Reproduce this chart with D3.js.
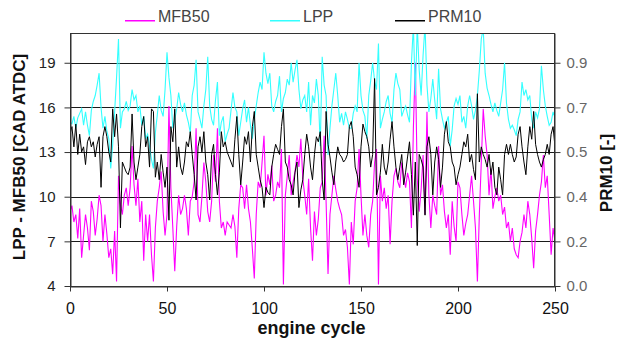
<!DOCTYPE html>
<html><head><meta charset="utf-8">
<script src="https://cdn.jsdelivr.net/npm/d3@7"></script>
<style>body{margin:0;background:#fff}svg{display:block}text{font-family:"Liberation Sans",Arial,sans-serif}</style>
</head><body><svg id="c" width="619" height="339"></svg>
<script>
const cycles = d3.range(0, 251);
const leftTicks = [4, 7, 10, 13, 16, 19];
const xTicks = [0, 50, 100, 150, 200, 250];
const seriesNames = ["MFB50", "LPP", "PRM10"];
const mfb50 = [9.0,9.4,8.3,8.8,7.2,9.2,5.9,7.4,8.8,7.9,6.4,9.7,9.0,7.4,8.5,10.1,9.4,7.0,8.8,7.5,
5.9,6.5,4.8,7.7,4.3,11.4,9.5,8.8,10.1,10.6,9.4,10.6,13.4,10.8,9.4,11.2,8.3,9.7,5.7,8.8,
7.0,8.8,6.1,4.3,7.9,9.7,10.6,11.7,9.0,7.4,8.8,16.1,10.6,7.9,5.0,8.0,10.1,8.8,9.2,10.1,
9.2,7.4,9.7,10.0,11.0,14.6,8.8,8.3,10.0,12.3,11.0,9.0,8.3,9.7,12.8,11.0,14.6,9.7,7.9,8.3,
7.4,8.3,8.1,7.9,8.8,8.0,5.9,9.2,10.8,10.6,9.2,10.8,9.2,8.3,6.5,4.5,8.8,11.0,10.6,12.3,
14.1,10.1,11.5,10.8,12.1,9.7,10.1,11.0,10.6,13.2,4.1,10.1,11.4,12.8,10.1,11.0,11.7,12.8,12.0,13.9,
11.2,10.1,8.8,11.2,7.9,5.7,9.0,7.4,8.5,10.6,11.0,14.1,9.7,4.8,8.8,10.1,11.4,10.5,9.7,9.2,
8.8,7.4,7.8,6.6,4.1,8.3,6.8,9.7,10.6,13.2,10.1,7.4,8.8,7.4,6.6,8.8,9.7,12.3,13.2,4.1,
11.4,9.7,10.6,9.2,10.1,6.8,9.7,11.4,11.9,11.0,10.6,12.3,11.4,10.6,11.6,11.0,7.9,14.6,19.0,11.2,
9.0,10.5,12.8,8.8,15.7,10.1,7.9,10.1,9.4,8.8,13.4,10.1,10.8,9.0,7.9,8.8,6.1,9.7,8.0,7.0,
11.0,10.6,8.8,7.4,8.2,8.8,10.1,11.4,9.7,7.9,4.3,8.8,12.3,15.9,14.1,12.8,10.1,11.9,9.2,10.0,
10.6,9.7,10.1,8.8,9.3,7.9,8.3,7.0,7.9,6.5,6.1,5.9,7.0,7.6,8.8,7.9,9.7,8.8,7.2,5.2,
7.7,8.8,10.1,11.0,12.8,10.6,11.4,8.8,6.1,7.9,7.0];
const lpp = [15.0,14.9,15.4,14.6,15.3,15.6,15.9,14.8,15.7,14.8,14.1,15.8,16.4,16.8,17.5,18.3,16.0,14.6,15.4,14.4,
13.9,11.9,13.5,15.7,18.0,20.6,14.6,15.7,15.9,16.4,15.8,16.1,17.2,16.5,16.8,15.7,16.1,14.8,15.4,13.9,
14.2,13.4,12.5,11.9,14.3,15.5,16.8,15.8,15.4,17.2,19.7,18.0,16.8,14.6,15.2,15.9,17.0,16.2,15.7,16.3,
15.5,15.0,14.3,16.8,17.5,19.2,15.7,15.2,14.6,16.1,17.2,19.4,16.1,15.2,14.8,16.5,17.7,14.1,15.0,15.4,
13.7,14.2,14.6,15.8,17.0,16.0,15.7,14.1,15.0,15.9,16.5,15.0,16.0,14.8,13.9,15.2,16.1,17.0,17.7,17.2,
19.7,18.3,17.6,18.3,16.1,15.7,16.4,16.8,18.1,15.7,16.6,17.0,17.9,17.5,19.0,17.7,18.5,19.2,17.2,15.9,
16.5,16.8,15.7,17.7,14.8,16.8,16.3,17.9,16.8,13.4,19.4,17.5,16.8,12.8,14.6,16.1,17.2,18.3,16.8,15.0,
15.6,14.8,15.7,15.2,14.6,14.6,15.6,16.1,15.7,19.0,16.8,15.8,15.4,13.9,16.8,17.8,19.0,17.8,17.2,20.3,
14.6,15.2,15.7,16.4,16.8,15.6,15.0,17.2,18.3,17.6,17.2,15.4,15.8,16.1,15.5,15.0,19.0,21.5,16.8,21.5,
18.5,16.8,19.5,21.5,17.5,15.7,16.6,17.9,16.5,15.2,18.6,15.9,15.2,14.6,15.0,15.4,13.4,14.5,16.1,16.6,
16.2,16.8,15.0,15.4,14.6,16.1,16.8,16.1,15.2,15.8,16.8,18.5,20.6,21.3,18.3,17.3,16.8,16.2,15.7,16.3,
15.8,15.4,16.3,17.2,19.0,16.3,15.2,14.6,14.8,14.5,14.1,15.2,15.7,17.7,16.8,17.2,16.5,16.8,15.2,14.6,
15.7,15.3,15.9,18.8,17.2,16.1,15.4,14.8,15.0,15.7,15.3];
const prm10 = [0.60,0.63,0.55,0.64,0.52,0.60,0.53,0.55,0.48,0.57,0.59,0.55,0.57,0.51,0.56,0.59,0.39,0.59,0.63,0.59,
0.53,0.49,0.70,0.59,0.68,0.55,0.23,0.49,0.47,0.45,0.44,0.47,0.68,0.49,0.42,0.47,0.52,0.63,0.67,0.55,
0.59,0.47,0.70,0.69,0.43,0.49,0.42,0.52,0.45,0.39,0.47,0.26,0.63,0.57,0.70,0.47,0.55,0.47,0.44,0.49,
0.57,0.55,0.61,0.52,0.44,0.34,0.55,0.59,0.53,0.61,0.49,0.44,0.34,0.52,0.56,0.44,0.36,0.45,0.61,0.55,
0.57,0.53,0.51,0.49,0.47,0.58,0.67,0.52,0.40,0.49,0.59,0.56,0.61,0.49,0.63,0.69,0.52,0.47,0.42,0.39,
0.31,0.39,0.37,0.36,0.47,0.52,0.56,0.54,0.52,0.63,0.70,0.49,0.47,0.42,0.40,0.36,0.45,0.49,0.31,0.38,
0.42,0.52,0.60,0.55,0.47,0.42,0.52,0.59,0.57,0.61,0.42,0.34,0.69,0.56,0.51,0.45,0.40,0.49,0.55,0.52,
0.51,0.49,0.50,0.52,0.63,0.65,0.59,0.47,0.44,0.39,0.55,0.64,0.61,0.59,0.55,0.47,0.52,0.82,0.36,0.39,
0.45,0.56,0.47,0.44,0.49,0.58,0.65,0.55,0.47,0.42,0.47,0.52,0.40,0.45,0.51,0.57,0.44,0.28,0.49,0.16,
0.52,0.50,0.47,0.28,0.55,0.59,0.52,0.36,0.49,0.55,0.50,0.39,0.47,0.60,0.65,0.57,0.55,0.49,0.47,0.40,
0.44,0.47,0.52,0.57,0.55,0.60,0.49,0.52,0.46,0.42,0.76,0.49,0.55,0.52,0.50,0.47,0.52,0.44,0.49,0.39,
0.36,0.47,0.42,0.36,0.52,0.56,0.52,0.56,0.52,0.49,0.51,0.60,0.63,0.55,0.49,0.44,0.55,0.63,0.58,0.69,
0.56,0.52,0.49,0.47,0.50,0.52,0.56,0.52,0.60,0.63,0.55];

const svg = d3.select("#c");
const L = 70, R = 555, T = 33, B = 286;
const x = d3.scaleLinear().domain([0, 250]).range([L, R]);
const yL = d3.scaleLinear().domain([4, 21]).range([B, T]);
const yR = d3.scaleLinear().domain([0, 1]).range([B, T]);
const FONT = '"Liberation Sans", Arial, sans-serif';

svg.append("defs").append("clipPath").attr("id", "clip")
  .append("rect").attr("x", L).attr("y", T).attr("width", R - L).attr("height", B - T);

// gridlines
svg.append("g").selectAll("line").data(leftTicks.slice(1)).join("line")
  .attr("x1", L).attr("x2", R).attr("y1", d => Math.round(yL(d)) + 0.5).attr("y2", d => Math.round(yL(d)) + 0.5)
  .attr("stroke", "#1a1a1a").attr("stroke-width", 1);

const lineL = d3.line().x((d, i) => x(cycles[i])).y(d => yL(d));
const lineR = d3.line().x((d, i) => x(cycles[i])).y(d => yR(d));
const gLines = svg.append("g").attr("clip-path", "url(#clip)");
gLines.append("path").datum(mfb50).attr("d", lineL).attr("fill", "none").attr("stroke", "#ff00ff").attr("stroke-width", 1.1);
gLines.append("path").datum(lpp).attr("d", lineL).attr("fill", "none").attr("stroke", "#33ffff").attr("stroke-width", 1.1);
gLines.append("path").datum(prm10).attr("d", lineR).attr("fill", "none").attr("stroke", "#000").attr("stroke-width", 1);

// frame
svg.append("rect").attr("x", L + 0.5).attr("y", T + 0.5).attr("width", R - L - 1).attr("height", B - T)
  .attr("fill", "none").attr("stroke", "#333").attr("stroke-width", 1);

// left axis
const axL = svg.append("g").attr("transform", `translate(${L + 0.5},0)`)
  .call(d3.axisLeft(yL).tickValues(leftTicks).tickSize(6).tickPadding(9).tickSizeOuter(0));
axL.select(".domain").attr("stroke", "#333");
axL.selectAll(".tick line").attr("stroke", "#333");
axL.selectAll("text").attr("font-family", FONT).attr("font-size", 15).attr("fill", "#222");

// right axis: ticks at same positions as left grid
const rightTicks = leftTicks.map(t => yR.invert(yL(t)));
const axR = svg.append("g").attr("transform", `translate(${R - 0.5},0)`)
  .call(d3.axisRight(yR).tickValues(rightTicks).tickFormat(d3.format(".1f")).tickSize(6).tickPadding(6).tickSizeOuter(0));
axR.select(".domain").attr("stroke", "#333");
axR.selectAll(".tick line").attr("stroke", "#333");
axR.selectAll("text").attr("font-family", FONT).attr("font-size", 15).attr("fill", "#666");

// bottom axis
const axB = svg.append("g").attr("transform", `translate(0,${B + 0.5})`)
  .call(d3.axisBottom(x).tickValues(xTicks).tickSize(5).tickPadding(11).tickSizeOuter(0));
axB.select(".domain").attr("stroke", "#333");
axB.selectAll(".tick line").attr("stroke", "#333");
axB.selectAll("text").attr("font-family", FONT).attr("font-size", 16).attr("fill", "#111");

// titles
svg.append("text").attr("x", (L + R) / 2 - 1).attr("y", 334).attr("text-anchor", "middle")
  .attr("font-family", FONT).attr("font-size", 18).attr("font-weight", "bold").attr("fill", "#111").text("engine cycle");
svg.append("text").attr("transform", `translate(25,157) rotate(-90)`).attr("text-anchor", "middle")
  .attr("font-family", FONT).attr("font-size", 17).attr("font-weight", "bold").attr("fill", "#111").text("LPP - MFB50 [CAD ATDC]");
svg.append("text").attr("transform", `translate(612,173) rotate(-90)`).attr("text-anchor", "middle")
  .attr("font-family", FONT).attr("font-size", 17).attr("font-weight", "bold").attr("fill", "#111").text("PRM10 [-]");

// legend
const legColors = ["#ff00ff", "#33ffff", "#000"];
const legX = [125, 270, 395];
const leg = svg.append("g").selectAll("g").data(seriesNames).join("g")
  .attr("transform", (d, i) => `translate(${legX[i]},0)`);
leg.append("rect").attr("x", 0).attr("y", 20).attr("width", 30).attr("height", 1.5)
  .attr("fill", (d, i) => legColors[i]);
leg.append("text").attr("x", 33).attr("y", 22).attr("font-family", FONT).attr("font-size", 16)
  .attr("fill", "#444").text(d => d);
</script></body></html>
